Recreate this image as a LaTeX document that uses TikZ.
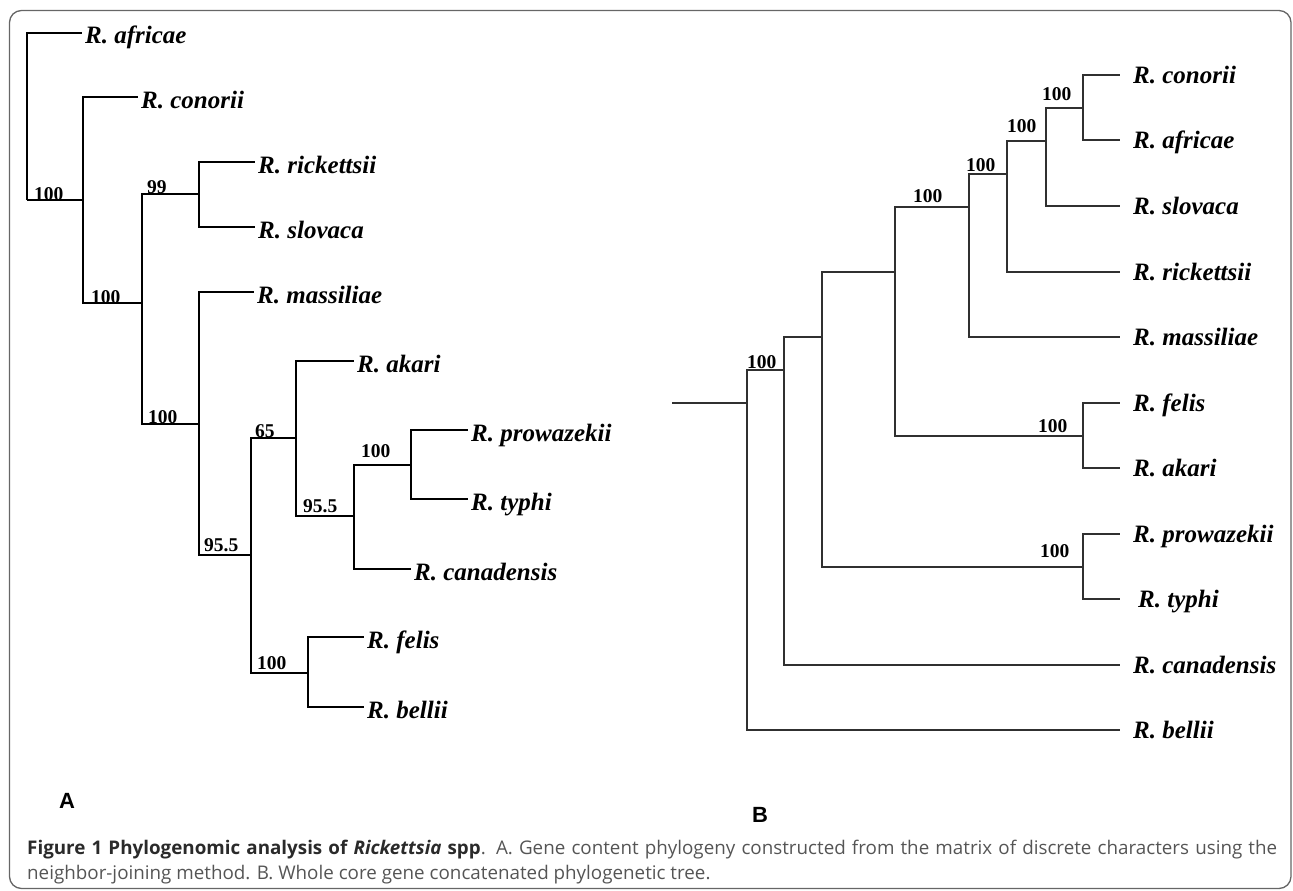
\documentclass[tikz,border=0pt]{standalone}
\usepackage{fontspec}
\setmainfont{Liberation Serif}
\newfontfamily\capfont{Open Sans}
\newfontfamily\panelfont{Liberation Sans}
\usetikzlibrary{calc}
\definecolor{frameC}{HTML}{666666}
\definecolor{treeB}{HTML}{303030}
\definecolor{capbold}{HTML}{2A2A2A}
\definecolor{capreg}{HTML}{555555}
\begin{document}
\begin{tikzpicture}[x=1pt,y=-1pt,
  brA/.style={line width=1.8pt, black, line join=miter},
  brB/.style={line width=1.1pt, treeB, line join=miter},
  leafA/.style={anchor=base west, inner sep=0pt, font=\fontsize{25}{30}\selectfont\bfseries\itshape},
  leafB/.style={anchor=base west, inner sep=0pt, font=\fontsize{25}{30}\selectfont\bfseries\itshape},
  bsA/.style={anchor=base west, inner sep=0pt, font=\fontsize{19.5}{22}\selectfont\bfseries},
  bsB/.style={anchor=base west, inner sep=0pt, font=\fontsize{19.5}{22}\selectfont\bfseries},
  panel/.style={anchor=base west, inner sep=0pt, font=\fontsize{22}{26}\selectfont\panelfont\bfseries},
  capline/.style={anchor=base west, inner sep=0pt, font=\fontsize{18.8}{22}\selectfont\capfont, text=capreg}]
\useasboundingbox (0,0) rectangle (1293,891);
\draw[frameC, line width=1.3pt, rounded corners=12pt] (9.5,10.5) rectangle (1291,888.5);

% ---------------- Tree A ----------------
\coordinate (rA) at (27,200);
\coordinate (a1) at (83,200);
\coordinate (a2) at (142,303);
\coordinate (a3) at (199,194);
\coordinate (a4) at (199,424);
\coordinate (a5) at (251,555);
\coordinate (a6) at (296,438);
\coordinate (a7) at (308,673);
\coordinate (a8) at (354,516);
\coordinate (a9) at (411,465);
\coordinate (eAafr) at (82,33);
\coordinate (eAcon) at (138,97);
\coordinate (eAric) at (255,162);
\coordinate (eAslo) at (255,227);
\coordinate (eAmas) at (254,292);
\coordinate (eAaka) at (354,361);
\coordinate (eApro) at (468,430);
\coordinate (eAtyp) at (468,499);
\coordinate (eAcan) at (411,569);
\coordinate (eAfel) at (364,637);
\coordinate (eAbel) at (364,707);

\draw[brA] (rA) |- (eAafr);
\draw[brA] (rA) -- (a1);
\draw[brA] (a1) |- (eAcon);
\draw[brA] (a1) |- (a2);
\draw[brA] (a2) |- (a3);
\draw[brA] (a2) |- (a4);
\draw[brA] (a3) |- (eAric);
\draw[brA] (a3) |- (eAslo);
\draw[brA] (a4) |- (eAmas);
\draw[brA] (a4) |- (a5);
\draw[brA] (a5) |- (a6);
\draw[brA] (a5) |- (a7);
\draw[brA] (a6) |- (eAaka);
\draw[brA] (a6) |- (a8);
\draw[brA] (a8) |- (a9);
\draw[brA] (a8) |- (eAcan);
\draw[brA] (a9) |- (eApro);
\draw[brA] (a9) |- (eAtyp);
\draw[brA] (a7) |- (eAfel);
\draw[brA] (a7) |- (eAbel);

\node[leafA] (lAafr) at ($(eAafr)+(3,11)$) {R. africae};
\node[leafA] (lAcon) at ($(eAcon)+(3,11)$) {R. conorii};
\node[leafA] (lAric) at ($(eAric)+(3,11)$) {R. rickettsii};
\node[leafA] (lAslo) at ($(eAslo)+(3,11)$) {R. slovaca};
\node[leafA] (lAmas) at ($(eAmas)+(3,11)$) {R. massiliae};
\node[leafA] (lAaka) at ($(eAaka)+(3,11)$) {R. akari};
\node[leafA] (lApro) at ($(eApro)+(3,11)$) {R. prowazekii};
\node[leafA] (lAtyp) at ($(eAtyp)+(3,11)$) {R. typhi};
\node[leafA] (lAcan) at ($(eAcan)+(3,11)$) {R. canadensis};
\node[leafA] (lAfel) at ($(eAfel)+(3,11)$) {R. felis};
\node[leafA] (lAbel) at ($(eAbel)+(3,11)$) {R. bellii};

\node[bsA] (bA0) at (34,200) {100};
\node[bsA] (bA1) at (91,303) {100};
\node[bsA] (bA3) at (147,193) {99};
\node[bsA] (bA4) at (148,423) {100};
\node[bsA] (bA5) at (204,551) {95.5};
\node[bsA] (bA6) at (255,437) {65};
\node[bsA] (bA8) at (303,512) {95.5};
\node[bsA] (bA9) at (361,457) {100};
\node[bsA] (bA7) at (257,669) {100};

% ---------------- Tree B ----------------
\coordinate (s0) at (672,403);
\coordinate (n1) at (747,403);
\coordinate (n2) at (784,370);
\coordinate (n3) at (822,337);
\coordinate (n4) at (895,272);
\coordinate (n5) at (969,207);
\coordinate (n6) at (1007,174);
\coordinate (n7) at (1046,141);
\coordinate (n8) at (1083,108);
\coordinate (n9) at (1083,436);
\coordinate (n10) at (1083,567);
\coordinate (eBcon) at (1120,75);
\coordinate (eBafr) at (1120,140);
\coordinate (eBslo) at (1120,206);
\coordinate (eBric) at (1120,272);
\coordinate (eBmas) at (1120,337);
\coordinate (eBfel) at (1120,403);
\coordinate (eBaka) at (1120,468);
\coordinate (eBpro) at (1120,534);
\coordinate (eBtyp) at (1120,599);
\coordinate (eBcan) at (1120,665);
\coordinate (eBbel) at (1120,730);

\draw[brB] (s0) -- (n1);
\draw[brB] (n1) |- (n2);
\draw[brB] (n1) |- (eBbel);
\draw[brB] (n2) |- (n3);
\draw[brB] (n2) |- (eBcan);
\draw[brB] (n3) |- (n4);
\draw[brB] (n3) |- (n10);
\draw[brB] (n4) |- (n5);
\draw[brB] (n4) |- (n9);
\draw[brB] (n5) |- (n6);
\draw[brB] (n5) |- (eBmas);
\draw[brB] (n6) |- (n7);
\draw[brB] (n6) |- (eBric);
\draw[brB] (n7) |- (n8);
\draw[brB] (n7) |- (eBslo);
\draw[brB] (n8) |- (eBcon);
\draw[brB] (n8) |- (eBafr);
\draw[brB] (n9) |- (eBfel);
\draw[brB] (n9) |- (eBaka);
\draw[brB] (n10) |- (eBpro);
\draw[brB] (n10) |- (eBtyp);

\node[leafB] (lBcon) at ($(eBcon)+(13,8.5)$) {R. conorii};
\node[leafB] (lBafr) at ($(eBafr)+(13,8.5)$) {R. africae};
\node[leafB] (lBslo) at ($(eBslo)+(13,8.5)$) {R. slovaca};
\node[leafB] (lBric) at ($(eBric)+(13,8.5)$) {R. rickettsii};
\node[leafB] (lBmas) at ($(eBmas)+(13,8.5)$) {R. massiliae};
\node[leafB] (lBfel) at ($(eBfel)+(13,8.5)$) {R. felis};
\node[leafB] (lBaka) at ($(eBaka)+(13,8.5)$) {R. akari};
\node[leafB] (lBpro) at ($(eBpro)+(13,8.5)$) {R. prowazekii};
\node[leafB] (lBtyp) at ($(eBtyp)+(18,8.5)$) {R. typhi};
\node[leafB] (lBcan) at ($(eBcan)+(13,8.5)$) {R. canadensis};
\node[leafB] (lBbel) at ($(eBbel)+(13,8.5)$) {R. bellii};

\node[bsB] (bB8) at (1042,100) {100};
\node[bsB] (bB7) at (1007,132) {100};
\node[bsB] (bB6) at (966,171) {100};
\node[bsB] (bB5) at (913,202) {100};
\node[bsB] (bB1) at (747,368) {100};
\node[bsB] (bB9) at (1038,432) {100};
\node[bsB] (bB10) at (1040,557) {100};

% ---------------- panel letters and caption ----------------
\node[panel] (pA) at (59,808) {A};
\node[panel] (pB) at (752,822) {B};

\node[capline] (cap1) at (27,854) {\makebox[1250pt][s]{\textcolor{capbold}{\bfseries Figure 1 Phylogenomic analysis of \textit{Rickettsia} spp}. A. Gene content phylogeny constructed from the matrix of discrete characters using the}};
\node[capline] (cap2) at (27,879) {neighbor-joining method. B. Whole core gene concatenated phylogenetic tree.};
\end{tikzpicture}
\end{document}
